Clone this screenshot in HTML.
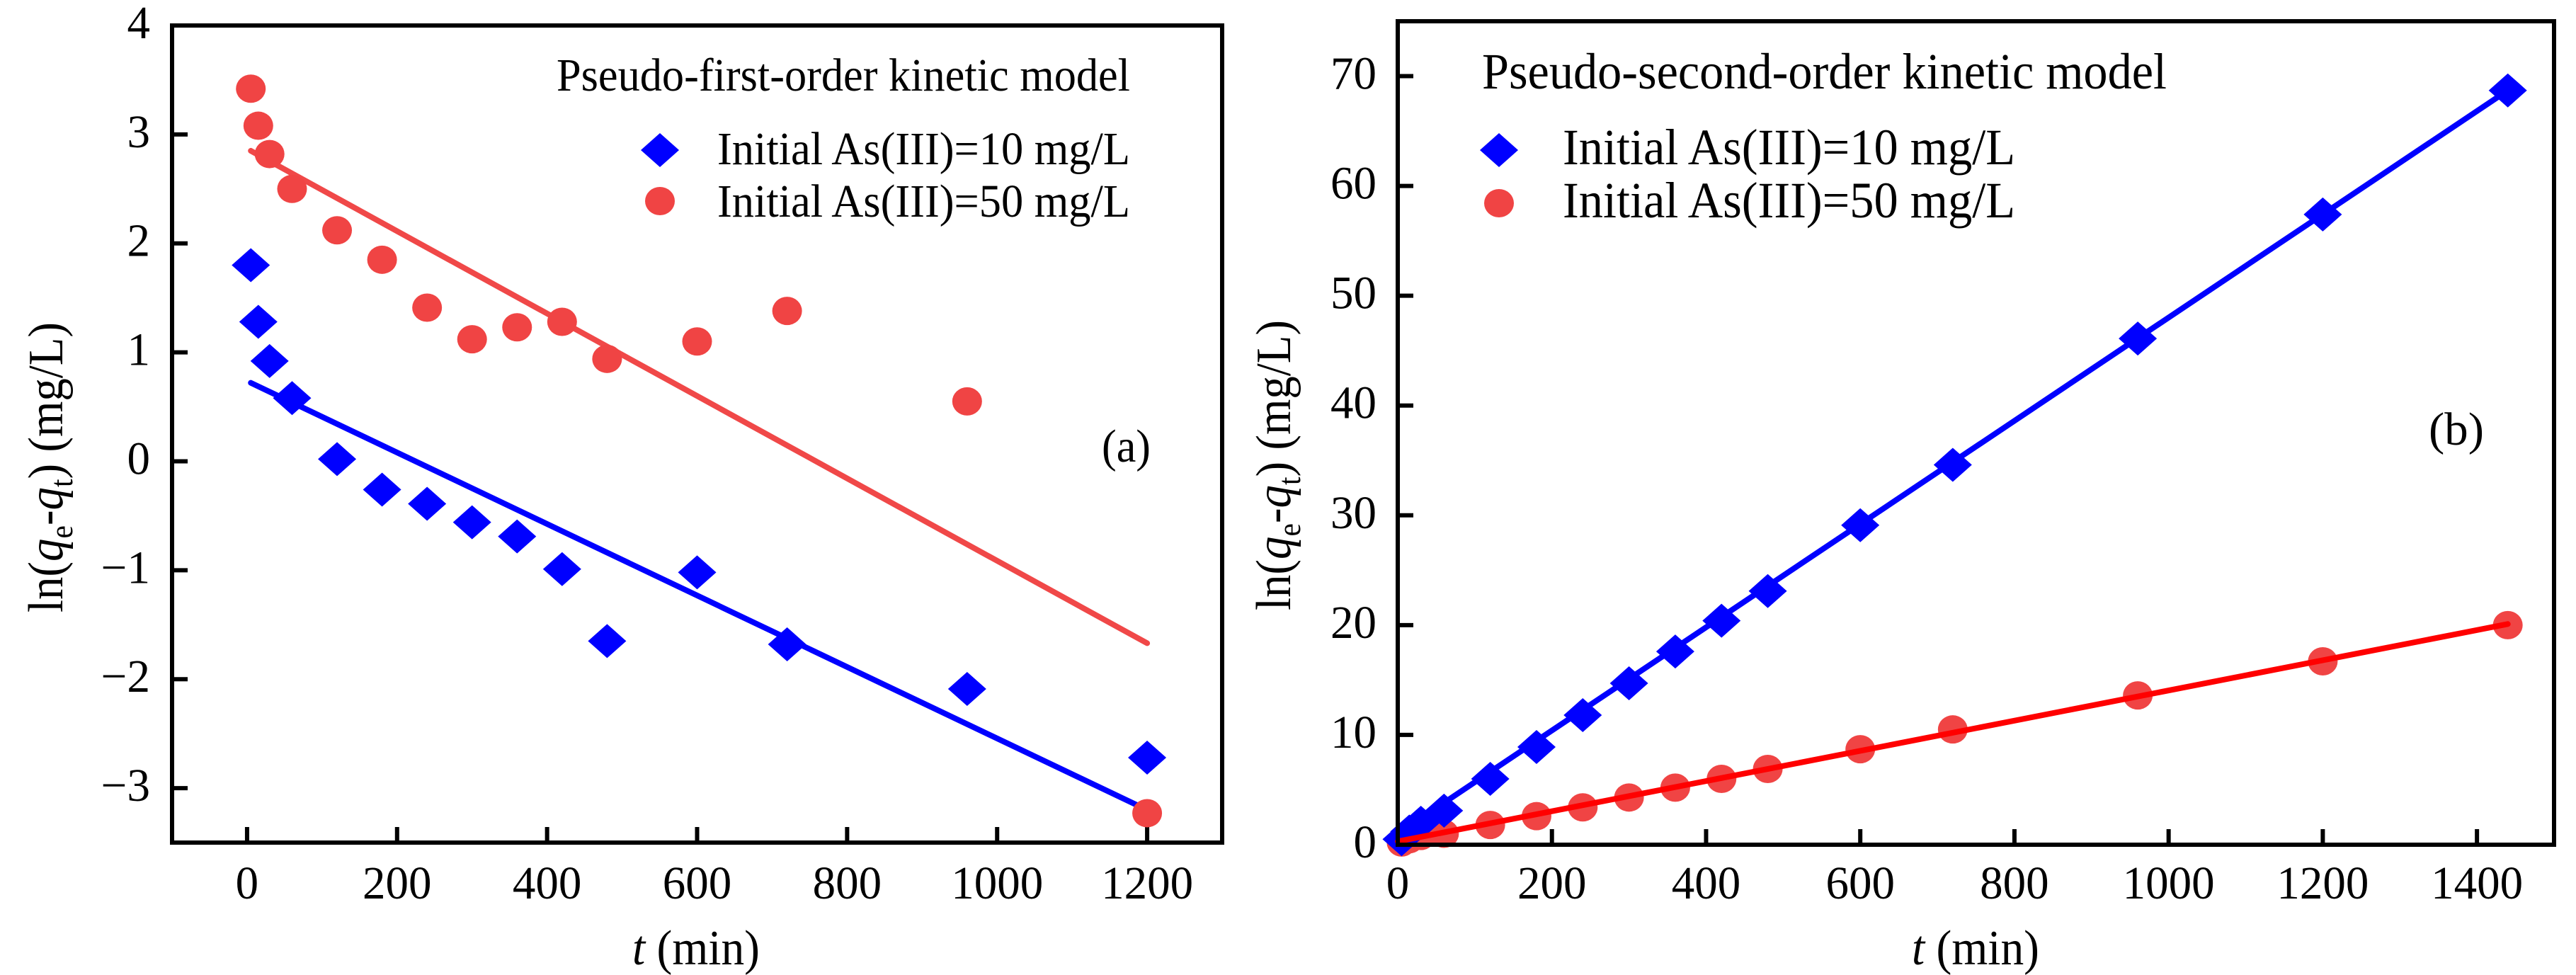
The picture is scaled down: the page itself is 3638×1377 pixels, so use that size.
<!DOCTYPE html>
<html><head><meta charset="utf-8"><style>
html,body{margin:0;padding:0;background:#fff;}
svg{display:block;}
svg text{font-family:"Liberation Serif","Tinos","DejaVu Serif",serif;}
</style></head><body>
<svg id="chart" width="3638" height="1377" viewBox="0 0 3638 1377" xmlns="http://www.w3.org/2000/svg">
<g id="pa"></g>
<g id="pb"></g>
</svg>
<script>
const NS='http://www.w3.org/2000/svg';
// ---- Panel A data ----
const timesA=[5,15,30,60,120,180,240,300,360,420,480,600,720,960,1200];
const a10=[1.8,1.28,0.92,0.58,0.02,-0.26,-0.39,-0.56,-0.69,-0.99,-1.65,-1.02,-1.68,-2.09,-2.72];
const a50=[3.42,3.08,2.82,2.5,2.12,1.85,1.41,1.12,1.23,1.28,0.94,1.1,1.38,0.55,-3.23];
const fitTimesA=[5,1200];
const fitA10=[0.72,-3.2];
const fitA50=[2.85,-1.67];
const xTicksA=[0,200,400,600,800,1000,1200];
const yTicksA=[-3,-2,-1,0,1,2,3,4];
const yTickLabelsA=['\u22123','\u22122','\u22121','0','1','2','3','4'];
// ---- Panel B data ----
const timesB=[5,15,30,60,120,180,240,300,360,420,480,600,720,960,1200,1440];
const b10=[0.5,1.2,2.0,3.1,6.0,8.9,11.8,14.7,17.6,20.4,23.1,29.1,34.6,46.1,57.4,68.7];
const b50=[0.2,0.5,0.8,1.0,1.8,2.6,3.4,4.3,5.2,6.0,6.9,8.7,10.5,13.6,16.7,20.0];
const fitTimesB=[0,1440];
const fitB10=[1.0,68.7];
const fitB50=[0.3,20.1];
const xTicksB=[0,200,400,600,800,1000,1200,1400];
const yTicksB=[0,10,20,30,40,50,60,70];

const FF='"Liberation Serif","Tinos","DejaVu Serif",serif';
function el(tag,attrs,parent){const e=document.createElementNS(NS,tag);for(const k in attrs)e.setAttribute(k,attrs[k]);parent.appendChild(e);return e;}
function lin(d0,d1,r0,r1){return v=>r0+(v-d0)*(r1-r0)/(d1-d0);}
function numW(s){let w=0;for(const c of s)w+=(c==='\u2212'?37:32.5);return w;}

function diamond(g,cx,cy,name){
  const p=el('polygon',{points:`${cx},${cy-24} ${cx+27},${cy} ${cx},${cy+24} ${cx-27},${cy}`,fill:'#0000ff'},g);
  
  
}
function circle(g,cx,cy,name){
  const c=el('ellipse',{cx:cx,cy:cy,rx:21,ry:20,fill:'#f04444'},g);
  
  
}
function txt(g,x,y,s,opts,name){
  const t=el('text',Object.assign({x:x,y:y,'font-size':66,fill:'#000','font-family':FF},opts||{}),g);
  t.textContent=s;
  
  
  return t;
}
function ylabel(g,x,y,name){
  const t=el('text',{transform:`translate(${x},${y}) rotate(-90)`,'text-anchor':'middle','font-size':70,fill:'#000','font-family':FF,textLength:410,lengthAdjust:'spacingAndGlyphs'},g);
  
  
  const parts=[['ln(',{}],['q',{'font-style':'italic'}],['e',{'font-size':45,dy:14}],['-',{dy:-14}],['q',{'font-style':'italic'}],['t',{'font-size':45,dy:14}],[') (mg/L)',{dy:-14}]];
  parts.forEach(([s,a])=>{const ts=el('tspan',a,t);ts.textContent=s;});
}
function xlabel(g,cx,y,name){
  const t=el('text',{x:cx,y:y,'text-anchor':'middle','font-size':70,fill:'#000','font-family':FF,textLength:180,lengthAdjust:'spacingAndGlyphs'},g);
  
  
  const a=el('tspan',{'font-style':'italic'},t);a.textContent='t';
  const b=el('tspan',{},t);b.textContent=' (min)';
}

function panel(g,cfg){
  const X=lin(cfg.xd[0],cfg.xd[1],cfg.L,cfg.R), Y=lin(cfg.yd[0],cfg.yd[1],cfg.B,cfg.T);
  cfg.xt.forEach((v,i)=>{
    const l=el('line',{x1:X(v),x2:X(v),y1:cfg.B,y2:cfg.B-22,stroke:'#000','stroke-width':6},g);
    
    
    const s=String(v);
    txt(g,X(v),1269,s,{'text-anchor':'middle',textLength:numW(s),lengthAdjust:'spacingAndGlyphs'},'x-tick-label');
  });
  cfg.yt.forEach((v,i)=>{
    const l=el('line',{x1:cfg.L,x2:cfg.L+22,y1:Y(v),y2:Y(v),stroke:'#000','stroke-width':6},g);
    
    
    const s=cfg.ytl[i];
    txt(g,cfg.ylx,Y(v)+18,s,{'text-anchor':'end',textLength:numW(s),lengthAdjust:'spacingAndGlyphs'},'y-tick-label');
  });
  const f1=el('line',{x1:X(cfg.ft[0]),y1:Y(cfg.f10[0]),x2:X(cfg.ft[1]),y2:Y(cfg.f10[1]),stroke:'#0000ff','stroke-width':8,'stroke-linecap':'round'},g);
  
  
  const f2=el('line',{x1:X(cfg.ft[0]),y1:Y(cfg.f50[0]),x2:X(cfg.ft[1]),y2:Y(cfg.f50[1]),stroke:cfg.redLine,'stroke-width':8,'stroke-linecap':'round'},g);
  
  
  if(cfg.circlesFirst){
    cfg.t.forEach((t,i)=>circle(g,X(t),Y(cfg.s50[i]),'point-50mgL'));
    cfg.t.forEach((t,i)=>diamond(g,X(t),Y(cfg.s10[i]),'point-10mgL'));
    g.appendChild(f2);
  } else {
    cfg.t.forEach((t,i)=>diamond(g,X(t),Y(cfg.s10[i]),'point-10mgL'));
    cfg.t.forEach((t,i)=>circle(g,X(t),Y(cfg.s50[i]),'point-50mgL'));
  }
  const r=el('rect',{x:cfg.L,y:cfg.T,width:cfg.R-cfg.L,height:cfg.B-cfg.T,fill:'none',stroke:'#000','stroke-width':6},g);
  
  
}

const ga=document.getElementById('pa'), gb=document.getElementById('pb');
panel(ga,{L:243,R:1726,T:36,B:1190,xd:[-100,1300],yd:[-3.5,4],xt:xTicksA,yt:yTicksA,ytl:yTickLabelsA,ylx:212,
  t:timesA,s10:a10,s50:a50,ft:fitTimesA,f10:fitA10,f50:fitA50,redLine:'#f04848',circlesFirst:false});
panel(gb,{L:1974,R:3607,T:30,B:1193,xd:[0,1500],yd:[0,75],xt:xTicksB,yt:yTicksB,ytl:yTicksB.map(String),ylx:1944,
  t:timesB,s10:b10,s50:b50,ft:fitTimesB,f10:fitB10,f50:fitB50,redLine:'#ff0000',circlesFirst:true});

txt(ga,786,128,'Pseudo-first-order kinetic model',{textLength:810,lengthAdjust:'spacingAndGlyphs','font-size':66},'legend-title-a');
diamond(ga,932,212,'legend-marker-10mgL');
circle(ga,932,284,'legend-marker-50mgL');
txt(ga,1013,232,'Initial As(III)=10 mg/L',{textLength:583,lengthAdjust:'spacingAndGlyphs','font-size':66},'legend-entry-10mgL');
txt(ga,1013,306,'Initial As(III)=50 mg/L',{textLength:583,lengthAdjust:'spacingAndGlyphs','font-size':66},'legend-entry-50mgL');
txt(ga,1556,652,'(a)',{textLength:69,lengthAdjust:'spacingAndGlyphs'},'panel-label-a');
ylabel(ga,88,660,'y-axis-title-a');
xlabel(ga,983,1362,'x-axis-title-a');

txt(gb,2093,125,'Pseudo-second-order kinetic model',{textLength:967,lengthAdjust:'spacingAndGlyphs','font-size':72},'legend-title-b');
diamond(gb,2117,212,'legend-marker-10mgL');
circle(gb,2117,287,'legend-marker-50mgL');
txt(gb,2207,232,'Initial As(III)=10 mg/L',{textLength:639,lengthAdjust:'spacingAndGlyphs','font-size':72},'legend-entry-10mgL');
txt(gb,2207,307,'Initial As(III)=50 mg/L',{textLength:639,lengthAdjust:'spacingAndGlyphs','font-size':72},'legend-entry-50mgL');
txt(gb,3430,628,'(b)',{textLength:78,lengthAdjust:'spacingAndGlyphs'},'panel-label-b');
ylabel(gb,1822,657,'y-axis-title-b');
xlabel(gb,2790,1362,'x-axis-title-b');
</script>
</body></html>
